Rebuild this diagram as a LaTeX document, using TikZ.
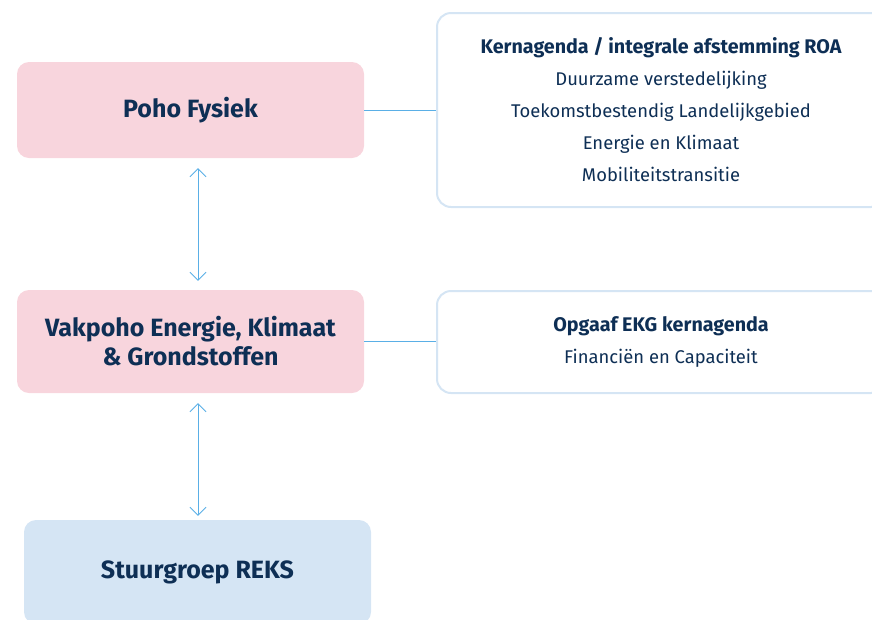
\documentclass[tikz,border=0pt]{standalone}
\usepackage{fontspec}
\setmainfont{Fira Sans}
\usetikzlibrary{arrows.meta}
\definecolor{navy}{HTML}{0E2F55}
\definecolor{rosefill}{HTML}{F8D5DD}
\definecolor{skyfill}{HTML}{D5E5F4}
\definecolor{linkblue}{HTML}{5AAFE6}
\newcommand{\agendakop}[1]{{\fontsize{19.7}{32}\selectfont\bfseries #1}}
\tikzset{%
  orgbox/.style   = {shape=rectangle, rounded corners=12pt, draw=none,%
                     align=center, text=navy, minimum width=347pt,%
                     font=\fontsize{25}{29}\selectfont\bfseries},%
  poho/.style     = {orgbox, fill=rosefill},%
  stuur/.style    = {orgbox, fill=skyfill},%
  agenda/.style   = {shape=rectangle, rounded corners=14pt, draw=skyfill,%
                     line width=2pt, fill=white, align=center, text=navy,%
                     minimum width=448pt, font=\fontsize{18.4}{32}\selectfont},%
  link/.style     = {draw=linkblue, line width=0.9pt},%
  twoway/.style   = {link, {Straight Barb[length=8pt,width=16pt]}-{Straight Barb[length=8pt,width=16pt]}}%
}

\begin{document}
\begin{tikzpicture}[x=1pt,y=-1pt]
	\useasboundingbox (0,0) rectangle (872,619);
	\clip (0,0) rectangle (872,619);
	% linker kolom
	\node [poho, minimum height=96pt] (fysiek) at (190.5,110) {Poho Fysiek};
	\node [poho, minimum height=103pt] (vakpoho) at (190.5,341.5)
		{Vakpoho Energie, Klimaat\\\& Grondstoffen};
	\node [stuur, minimum height=104pt] (reks) at (197.5,572) {Stuurgroep REKS};
	% agenda's rechts
	\node [agenda, minimum height=194pt] (kern) at (661,110)
		{\agendakop{Kernagenda / integrale afstemming ROA}\\
		 Duurzame verstedelijking\\
		 Toekomstbestendig Landelijkgebied\\
		 Energie en Klimaat\\
		 Mobiliteitstransitie};
	\node [agenda, minimum height=102pt] (opgaaf) at (661,342)
		{\agendakop{Opgaaf EKG kernagenda}\\
		 Financiën en Capaciteit};
	% verbindingen
	\draw [link] (fysiek.east) -- (kern.west);
	\draw [link] (vakpoho.east) -- (vakpoho.east -| opgaaf.west);
	\draw [twoway, shorten <=10pt, shorten >=9pt]
		([xshift=7.5pt]fysiek.south) -- ([xshift=7.5pt]vakpoho.north);
	\draw [twoway, shorten <=10pt, shorten >=4pt]
		([xshift=7.5pt]vakpoho.south) -- ([xshift=0.5pt]reks.north);
\end{tikzpicture}
\end{document}
